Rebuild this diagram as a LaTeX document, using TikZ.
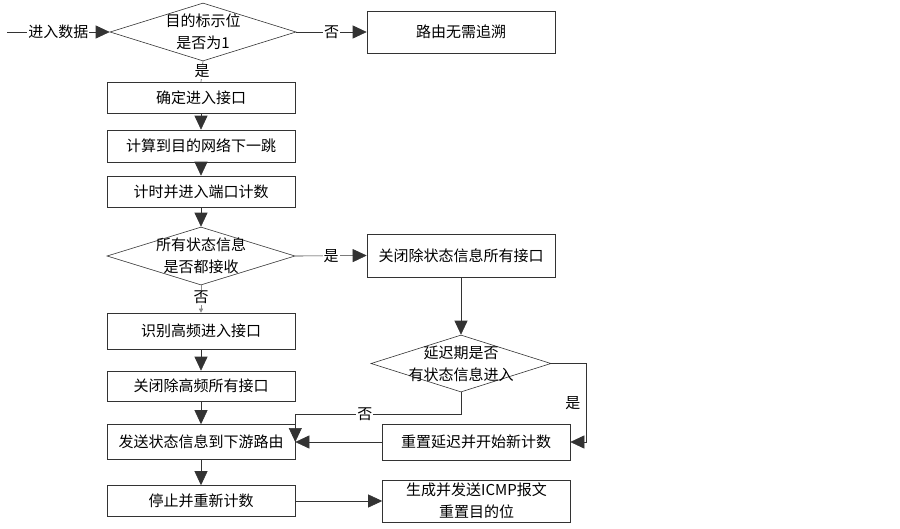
\documentclass[tikz,border=0pt]{standalone}
\usepackage{fontspec}
\usepackage{tikz}
\usetikzlibrary{shapes.geometric,arrows.meta}
\newfontfamily\cjk{Noto Sans CJK SC}
\newcommand{\chartFont}[0]{\cjk\fontsize{15}{22}\selectfont}

\begin{document}
\begin{tikzpicture}[x=1pt, y=-1pt, font=\chartFont]
  \tikzset{
    line/.style={draw=black!80, line width=0.6pt},
    arr/.style={line, -{Triangle[length=14pt,width=13pt]}},
    thin arr/.style={draw=black!45, line width=0.4pt, -{Triangle[length=4pt,width=4pt]}},
    box/.style={line, rectangle, minimum width=188pt, inner sep=2pt},
    dec/.style={line, diamond, inner sep=0pt},
    lab/.style={fill=white, inner sep=1pt}
  }
  \useasboundingbox (0,0) rectangle (900,528);
  \coordinate (In) at (7,32);
  \node[dec, minimum width=186pt, minimum height=58pt,
    label={[align=center]center:{目的标示位\\是否为1}}] (D-1) at (203,32) {};
  \node[box, minimum height=42pt] (R-0) at (461,32) {路由无需追溯};
  \node[box, minimum height=31pt] (B-1) at (201,97.5) {确定进入接口};
  \node[box, minimum height=32pt] (B-2) at (201,146) {计算到目的网络下一跳};
  \node[box, minimum height=31pt] (B-3) at (201,191.5) {计时并进入端口计数};
  \node[dec, minimum width=188pt, minimum height=58pt,
    label={[align=center]center:{所有状态信息\\是否都接收}}] (D-2) at (201,256) {};
  \node[box, minimum height=43pt] (R-1) at (461,255.5) {关闭除状态信息所有接口};
  \node[box, minimum height=36pt] (B-4) at (201,331) {识别高频进入接口};
  \node[box, minimum height=30pt] (B-5) at (201,386) {关闭除高频所有接口};
  \node[dec, minimum width=180pt, minimum height=57pt,
    label={[align=center]center:{延迟期是否\\有状态信息进入}}] (D-3) at (461,363.5) {};
  \node[box, minimum height=35pt] (B-6) at (201,442) {发送状态信息到下游路由};
  \node[box, minimum height=36pt] (R-2) at (476,442) {重置延迟并开始新计数};
  \node[box, minimum height=31pt] (B-7) at (201,501) {停止并重新计数};
  \node[box, minimum height=42pt, align=center] (R-3) at (476.5,501) {生成并发送ICMP报文\\重置目的位};
  \coordinate (C-1) at (586,363.5);
  \coordinate (C-2) at (461,414);
  \draw[arr] (In) -- node[lab]{进入数据} (D-1.west);
  \draw[arr] (D-1.east) -- node[lab]{否} (R-0.west);
  \draw[line] (D-1.south) -- node[lab]{是} (B-1.north);
  \draw[arr] (B-1) -- (B-2);
  \draw[arr] (B-2) -- (B-3);
  \draw[arr] (B-3) -- (D-2.north);
  \draw[arr] (D-2.east) -- node[lab]{是} (R-1.west);
  \draw[thin arr] (D-2.south) -- node[lab, pos=0.45]{否} (B-4.north);
  \draw[arr] (B-4) -- (B-5);
  \draw[arr] (B-5) -- (B-6);
  \draw[arr] (R-1.south) -- (D-3.north);
  \draw[arr] (D-3.east) -- (C-1) |- node[pos=0.25, left=2pt]{是} (R-2.east);
  \draw[arr] (D-3.south) -- (C-2) -- node[lab, pos=0.58]{否} (C-2 -| B-6.east) -- (B-6.east);
  \draw[arr] (R-2.west) -- (B-6.east);
  \draw[arr] (B-6) -- (B-7);
  \draw[arr] (B-7.east) -- (R-3.west);
\end{tikzpicture}
\end{document}
